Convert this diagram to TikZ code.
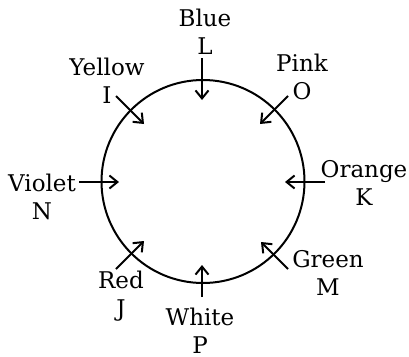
\documentclass[tikz,border=0pt]{standalone}
\usepackage{fontspec}
\setmainfont{DejaVu Serif}
\usetikzlibrary{arrows.meta}
\begin{document}
\begin{tikzpicture}[x=1pt,y=-1pt,
  lbl/.style={align=center,anchor=base,inner sep=0pt,font=\fontsize{23}{28}\selectfont},
  arr/.style={line width=2pt,-{Straight Barb[length=8pt,width=13pt,line width=2pt]}},
  ring/.style={line width=2pt}]
\useasboundingbox (0,0) rectangle (409,356);
\node[ring,draw,circle,minimum size=203pt,inner sep=0pt] (c) at (203,181.5) {};
\node[lbl] (blue) at (205,54) {Blue\\L};
\node[lbl] (pink) at (302,99) {Pink\\O};
\node[lbl] (yellow) at (107,103) {Yellow\\I};
\node[lbl] (violet) at (42,219) {Violet\\N};
\node[lbl] (orange) at (364,205) {Orange\\K};
\node[lbl] (green) at (328,295) {Green\\M};
\node[lbl] (red) at (121,316) {Red\\J};
\node[lbl] (white) at (200,353) {White\\P};
\coordinate (b1) at (202,58);  \coordinate (b2) at (202,100);
\coordinate (p1) at (288,96);  \coordinate (p2) at (260,124);
\coordinate (y1) at (116,96);  \coordinate (y2) at (144,124);
\coordinate (v1) at (79,182);  \coordinate (v2) at (119,182);
\coordinate (o1) at (325,182); \coordinate (o2) at (285,182);
\coordinate (g1) at (288,269); \coordinate (g2) at (261,242);
\coordinate (r1) at (116,269); \coordinate (r2) at (144,241);
\coordinate (w1) at (202,297); \coordinate (w2) at (202,265);
\draw[arr] (b1) -- (b2);
\draw[arr] (p1) -- (p2);
\draw[arr] (y1) -- (y2);
\draw[arr] (v1) -- (v2);
\draw[arr] (o1) -- (o2);
\draw[arr] (g1) -- (g2);
\draw[arr] (r1) -- (r2);
\draw[arr] (w1) -- (w2);
\end{tikzpicture}
\end{document}
